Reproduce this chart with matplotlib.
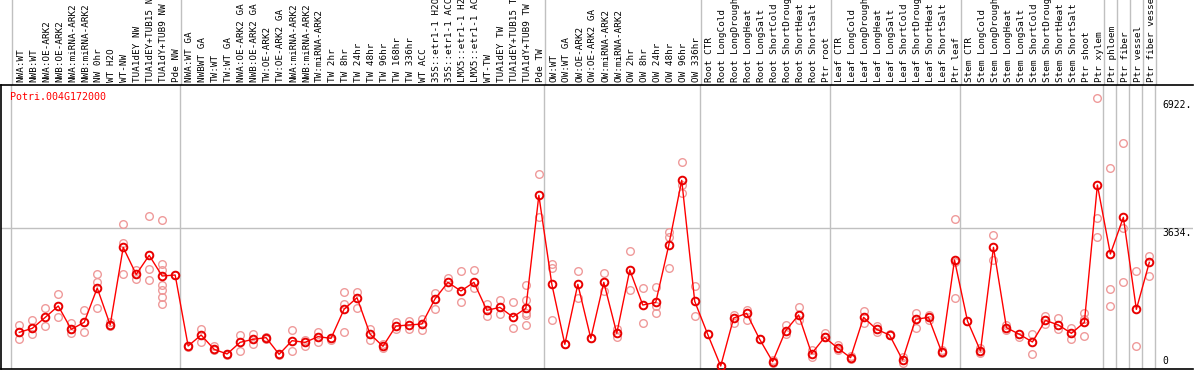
import matplotlib
matplotlib.use("Agg")
import matplotlib.pyplot as plt
import numpy as np

gene = "Potri.004G172000"

labels = [
    "NWA:WT", "NWB:WT", "NWA:OE-ARK2", "NWB:OE-ARK2", "NWA:miRNA-ARK2", "NWB:miRNA-ARK2",
    "NW 0hr", "WT H2O", "WT-NW", "TUA1dEY NW", "TUA1dEY+TUB15 NW", "TUA1dY+TUB9 NW", "Pde NW",
    "NWA:WT GA", "NWBWT GA", "TW:WT", "TW:WT GA", "NWA:OE-ARK2 GA", "NWB:OE-ARK2 GA",
    "TW:OE-ARK2", "TW:OE-ARK2 GA", "NWA:miRNA-ARK2", "NWB:miRNA-ARK2", "TW:miRNA-ARK2",
    "TW 2hr", "TW 8hr", "TW 24hr", "TW 48hr", "TW 96hr", "TW 168hr", "TW 336hr", "WT ACC",
    "35S::etr1-1 H2O", "35S::etr1-1 ACC", "LMX5::etr1-1 H2O", "LMX5::etr1-1 ACC", "WT-TW",
    "TUA1dEY TW", "TUA1dEY+TUB15 TW", "TUA1dY+TUB9 TW", "Pde TW",
    "OW:WT", "OW:WT GA", "OW:OE-ARK2", "OW:OE-ARK2 GA", "OW:miRNA-ARK2", "OW:miRNA-ARK2",
    "OW 2hr", "OW 8hr", "OW 24hr", "OW 48hr", "OW 96hr", "OW 336hr",
    "Root CTR", "Root LongCold", "Root LongDrought", "Root LongHeat", "Root LongSalt",
    "Root ShortCold", "Root ShortDrought", "Root ShortHeat", "Root ShortSalt", "Ptr root",
    "Leaf CTR", "Leaf LongCold", "Leaf LongDrought", "Leaf LongHeat", "Leaf LongSalt",
    "Leaf ShortCold", "Leaf ShortDrought", "Leaf ShortHeat", "Leaf ShortSalt", "Ptr leaf",
    "Stem CTR", "Stem LongCold", "Stem LongDrought", "Stem LongHeat", "Stem LongSalt",
    "Stem ShortCold", "Stem ShortDrought", "Stem ShortHeat", "Stem ShortSalt", "Ptr shoot",
    "Ptr xylem", "Ptr phloem", "Ptr fiber", "Ptr vessel", "Ptr fiber vessel",
]

group_sizes = [13, 28, 12, 10, 10, 11, 1, 1, 1, 1]

means = [
    945, 1048, 1331, 1624, 1022, 1203, 2087, 1134, 3135, 2438, 2929, 2397, 2422,
    593, 876, 507, 387, 687, 765, 808, 378, 730, 687, 833, 790, 1537, 1838, 902, 585,
    1108, 1134, 1160, 1804, 2234, 2010, 2234, 1512, 1589, 1340, 1563, 4475,
    2182, 636, 2182, 790, 2234, 919, 2551, 1649, 1718, 3187, 4862, 1744,
    893, 77, 1314, 1434, 765, 189, 988, 1392, 395, 816,
    541, 292, 1331, 1022, 876, 232, 1280, 1331, 447, 2809,
    1237, 464, 3135, 1065, 893, 696, 1254, 1134, 919, 1203, 4742,
    2964, 3908, 1537, 2749,
]

replicates = [
    [1134, 945, 765], [1262, 1048, 906], [1570, 1108], [1924, 1331], [1194, 1022, 917],
    [1513, 962], [2438, 2250, 1570], [1220, 1100], [3728, 3238, 2439], [2550, 2330],
    [3943, 2577, 2285], [3840, 2706, 2551, 2165, 2036, 1847, 1675], [2422],
    [593, 560], [1023, 697], [580, 480], [387, 360], [876, 472], [906, 636], [830, 780],
    [378, 350], [1000, 472], [747, 601], [962, 700], [790, 760], [1993, 1666, 945],
    [1993, 1580], [1023, 747], [640, 530], [1200, 1020], [1230, 1020], [1280, 997],
    [1950, 1546], [2355, 2121], [2525, 1735], [2550, 2078], [1683, 1365], [1770, 1425],
    [1735, 1048], [2165, 1778, 1443, 1382, 1134], [5017, 3926],
    [2697, 2594, 1263], [636], [2525, 1838], [790], [2464, 2018], [1022, 833],
    [3041, 2036], [2078, 1177], [2104, 1623, 1434], [3539, 3410, 2594],
    [5326, 4742, 4527], [2138, 1365],
    [893], [77], [1391, 1185], [1520, 1254], [765], [160, 220], [1134, 900],
    [1589, 1254], [481, 309], [920, 816],
    [620, 480], [340, 250], [1494, 1194], [1100, 950], [910], [146, 318], [1452, 1065],
    [1391, 1250], [490, 400], [3857, 2766, 1821],
    [1237], [530, 400], [3453, 2809], [1134, 1000], [820], [906, 387], [1374, 1168],
    [1323, 1022], [1048, 765], [1452, 1300, 850], [6975, 3883, 3393],
    [5171, 2053, 1624], [5815, 3625, 2234], [2525, 584], [2912, 2397],
]

axis_marks = [6922, 3634, 0]

W, H = 1194, 370
fig = plt.figure(figsize=(W / 100, H / 100), dpi=100)

x = np.arange(len(labels))
xlim = ((1 - 19.3) / 13, (W - 19.3) / 13)
ylim = (0, 7319)
seps = np.cumsum(group_sizes) - 0.6
seps = np.concatenate([[-0.6], seps])

# header with rotated sample names
hdr = fig.add_axes([1 / W, 285 / H, (W - 1) / W, 85 / H])
hdr.set_xlim(xlim)
hdr.set_ylim(0, 85)
hdr.axis("off")
for s in seps:
    hdr.axvline(s, color="#c0c0c0", lw=1)
for xi, lab in zip(x, labels):
    hdr.text(xi + 0.1, 2.5, lab, rotation=90, ha="center", va="bottom",
             family="DejaVu Sans Mono", fontsize=6.7, color="black")

ax = fig.add_axes([1 / W, 1 / H, (W - 2) / W, 284 / H])
ax.set_xlim(xlim)
ax.set_ylim(ylim)
ax.set_xticks([])
ax.set_yticks([])
for sp in ax.spines.values():
    sp.set_color("black")
    sp.set_linewidth(1.2)
ax.spines["right"].set_visible(False)

for s in seps:
    ax.axvline(s, color="#c0c0c0", lw=1, zorder=1)
ax.axhline(axis_marks[1], color="#c0c0c0", lw=1, zorder=1)

rx = [xi for xi, reps in zip(x, replicates) for _ in reps]
ry = [v for reps in replicates for v in reps]
ax.plot(rx, ry, "o", ms=5.5, mfc="none", mec="#ef9a9a", mew=1, zorder=2)
ax.plot(x, means, "-", color="#ff0000", lw=1, zorder=3)
ax.plot(x, means, "o", ms=5.5, mfc="none", mec="#e80000", mew=1.4, zorder=4)

tx = (1163 - 19.3) / 13
ax.text(tx, axis_marks[0], "%d." % axis_marks[0], va="top", ha="left",
        family="DejaVu Sans Mono", fontsize=7)
ax.text(tx, axis_marks[1], "%d." % axis_marks[1], va="top", ha="left",
        family="DejaVu Sans Mono", fontsize=7)
ax.text(tx, axis_marks[2] + 80, "%d" % axis_marks[2], va="bottom", ha="left",
        family="DejaVu Sans Mono", fontsize=7)

ax.text(9.5 / W, 1 - 12 / 284, gene, transform=ax.transAxes, color="red",
        family="DejaVu Sans Mono", fontsize=7.2, va="center", ha="left")

fig.savefig("out.png", dpi=100)
